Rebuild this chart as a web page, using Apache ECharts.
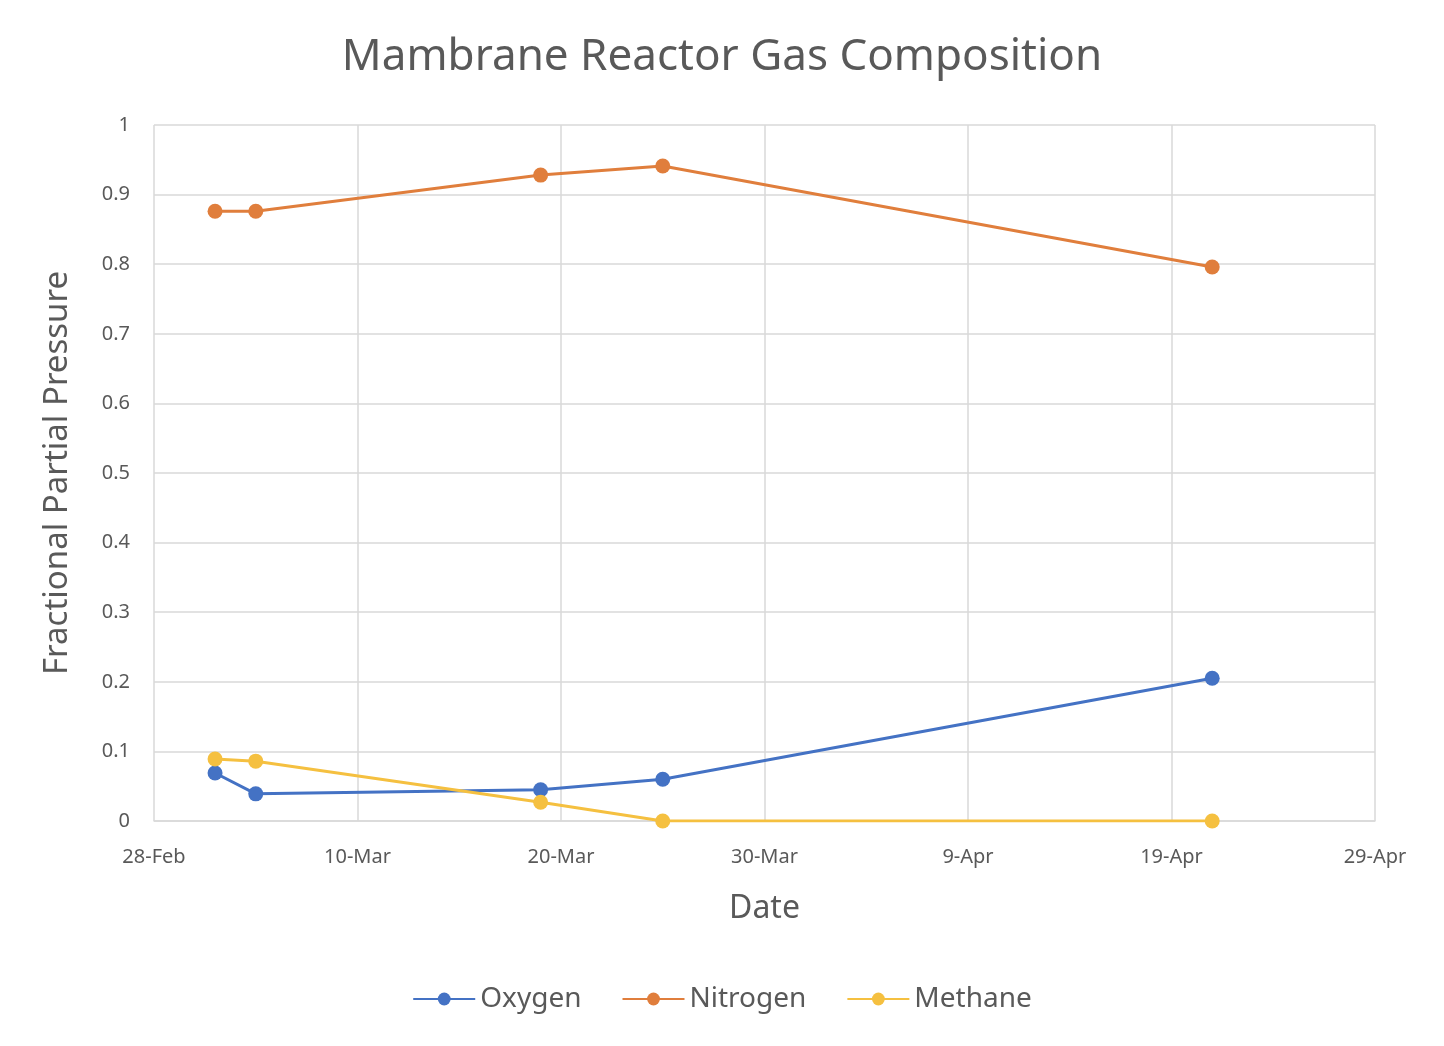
<!DOCTYPE html>
<html>
<head>
<meta charset="utf-8">
<script src="https://cdn.jsdelivr.net/npm/echarts@6/dist/echarts.min.js"></script>
<style>html,body{margin:0;padding:0;background:#fff}#chart{width:1444px;height:1046px}</style>
</head>
<body>
<div id="chart"></div>
<script>
var dates = ['2021-03-03', '2021-03-05', '2021-03-19', '2021-03-25', '2021-04-21'];
var oxygen = [0.069, 0.039, 0.045, 0.060, 0.205];
var nitrogen = [0.876, 0.876, 0.928, 0.941, 0.796];
var methane = [0.089, 0.086, 0.027, 0.0, 0.0];
var xMin = '2021-02-28';
var xMax = '2021-04-29';

var DAY = 86400000;
var base = Date.parse(xMin);
function toDays(d) { return Math.round((Date.parse(d) - base) / DAY); }
var months = ['Jan', 'Feb', 'Mar', 'Apr', 'May', 'Jun', 'Jul', 'Aug', 'Sep', 'Oct', 'Nov', 'Dec'];
function label(v) {
    var d = new Date(base + v * DAY);
    return d.getUTCDate() + '-' + months[d.getUTCMonth()];
}
function pairs(vals) {
    return dates.map(function (d, i) { return [toDays(d), vals[i]]; });
}
function line(name, vals, color) {
    return {
        name: name, type: 'line', data: pairs(vals),
        symbol: 'circle', symbolSize: 15,
        itemStyle: { color: color },
        lineStyle: { width: 3, color: color }
    };
}
var font = 'Noto Sans';
var chart = echarts.init(document.getElementById('chart'));
chart.setOption({
    animation: false,
    textStyle: { fontFamily: font },
    title: {
        text: 'Mambrane Reactor Gas Composition', left: 'center', top: 30,
        textStyle: { fontSize: 44, fontWeight: 'normal', color: '#595959', fontFamily: font }
    },
    legend: {
        bottom: 28, left: 'center', itemWidth: 62, itemHeight: 16, itemGap: 40,
        textStyle: { fontSize: 28, color: '#595959' }
    },
    grid: { left: 154, right: 69, top: 125, bottom: 225, containLabel: false },
    xAxis: {
        type: 'value', min: 0, max: toDays(xMax), interval: 10,
        name: 'Date', nameLocation: 'middle', nameGap: 72,
        nameTextStyle: { fontSize: 32, color: '#595959' },
        axisLine: { lineStyle: { color: '#d9d9d9', width: 1.5 } },
        axisTick: { show: false },
        axisLabel: { fontSize: 20, color: '#595959', margin: 26, formatter: label },
        splitLine: { show: true, lineStyle: { color: '#d9d9d9', width: 1.5 } }
    },
    yAxis: {
        type: 'value', min: 0, max: 1, interval: 0.1,
        name: 'Fractional Partial Pressure', nameLocation: 'middle', nameGap: 80,
        nameTextStyle: { fontSize: 33, color: '#595959' },
        axisLine: { show: false },
        axisTick: { show: false },
        axisLabel: { fontSize: 20, color: '#595959', margin: 24, formatter: function (v) { return +v.toFixed(1) + ''; } },
        splitLine: { lineStyle: { color: '#d9d9d9', width: 1.5 } }
    },
    series: [
        line('Oxygen', oxygen, '#4472C4'),
        line('Nitrogen', nitrogen, '#E07E3C'),
        line('Methane', methane, '#F5C040')
    ]
});
</script>
</body>
</html>
